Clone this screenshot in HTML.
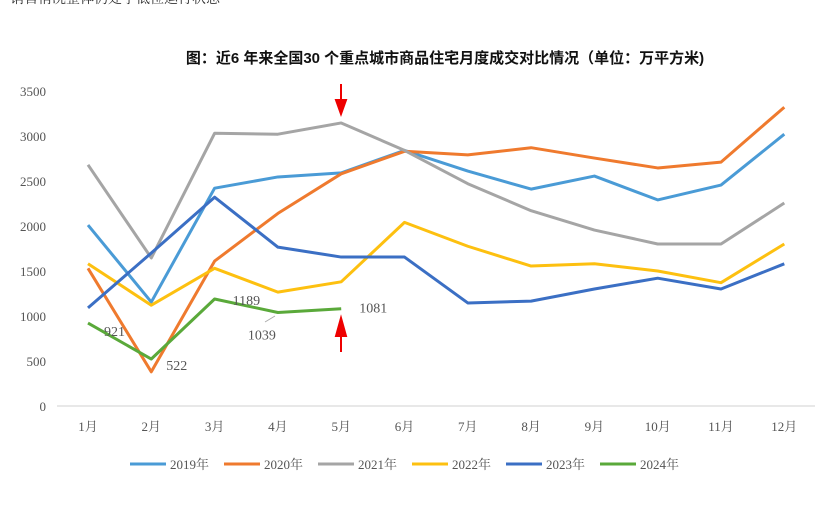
<!DOCTYPE html>
<html><head><meta charset="utf-8"><style>
body{margin:0;background:#fff;}
svg{display:block;font-family:"Liberation Serif","Noto Serif CJK SC",serif;}
</style></head><body>
<svg id="c" width="832" height="523">
<text x="10" y="3" font-size="14" fill="#333">销售情况整体仍处于低位运行状态</text>
<text x="445" y="63" text-anchor="middle" font-size="15" font-weight="bold" fill="#111" font-family="Liberation Sans,Noto Sans CJK SC,sans-serif">图：近6 年来全国30 个重点城市商品住宅月度成交对比情况（单位：万平方米)</text>
<g id="axes"></g><g id="series"></g><g id="legend"></g>
<path d="M341 84 L341 106 M336 100 L341 114 L346 100 Z" stroke="#e00" fill="#e00" stroke-width="2"/>
<path d="M341 352 L341 330 M336 336 L341 318 L346 336 Z" stroke="#e00" fill="#e00" stroke-width="2"/>
</svg>
<script>
const months=["1月","2月","3月","4月","5月","6月","7月","8月","9月","10月","11月","12月"];
const yTicks=[0,500,1000,1500,2000,2500,3000,3500];
const seriesNames=["2019年","2020年","2021年","2022年","2023年","2024年"];
const colors=["#4a9bd6","#ef7a2e","#a5a5a5","#fdc010","#3b6fc4","#5aa93a"];
const s2019=[2010,1155,2420,2545,2590,2840,2610,2410,2555,2290,2455,3020];
const s2020=[1530,380,1610,2140,2580,2830,2790,2870,2755,2645,2710,3320];
const s2021=[2680,1645,3030,3020,3145,2840,2470,2170,1955,1800,1800,2255];
const s2022=[1580,1120,1530,1265,1380,2040,1775,1555,1580,1500,1370,1800];
const s2023=[1090,1700,2320,1765,1655,1655,1145,1165,1300,1420,1300,1580];
const s2024=[921,522,1189,1039,1081];
const all=[s2019,s2020,s2021,s2022,s2023,s2024];
const ns="http://www.w3.org/2000/svg";
const X=i=>88+i*63.3, Y=v=>406-v*0.09;
function mk(t,a,p){const e=document.createElementNS(ns,t);for(const k in a)e.setAttribute(k,a[k]);p.appendChild(e);return e;}
const ax=document.getElementById('axes');
yTicks.forEach(v=>{const t=mk('text',{x:46,y:Y(v)+5,'text-anchor':'end','font-size':13,fill:'#555'},ax);t.textContent=v;

});
const base=mk('line',{x1:57,x2:815,y1:Y(0),y2:Y(0),stroke:'#d0d0d0'},ax);


months.forEach((m,i)=>{const t=mk('text',{x:X(i),y:431,'text-anchor':'middle','font-size':13,fill:'#555'},ax);t.textContent=m;

});
const sg=document.getElementById('series');
all.forEach((s,k)=>{const p=mk('polyline',{points:s.map((v,i)=>X(i)+','+Y(v)).join(' '),fill:'none',stroke:colors[k],'stroke-width':3,'stroke-linejoin':'round'},sg);

});
const lblOff=[[16,13],[15,11],[18,6],[-30,27],[18,4]];
s2024.forEach((v,i)=>{const t=mk('text',{x:X(i)+lblOff[i][0],y:Y(v)+lblOff[i][1],'font-size':14,fill:'#555'},sg);t.textContent=v;

});
mk('line',{x1:265,y1:322,x2:275,y2:316,stroke:'#aaa'},sg);
const lg=document.getElementById('legend');
seriesNames.forEach((n,k)=>{const x0=130+k*94;
const g=mk('g',{},lg);


mk('line',{x1:x0,x2:x0+36,y1:464,y2:464,stroke:colors[k],'stroke-width':3},g);
const t=mk('text',{x:x0+40,y:469,'font-size':13,fill:'#555'},g);t.textContent=n;});
</script>
</body></html>
